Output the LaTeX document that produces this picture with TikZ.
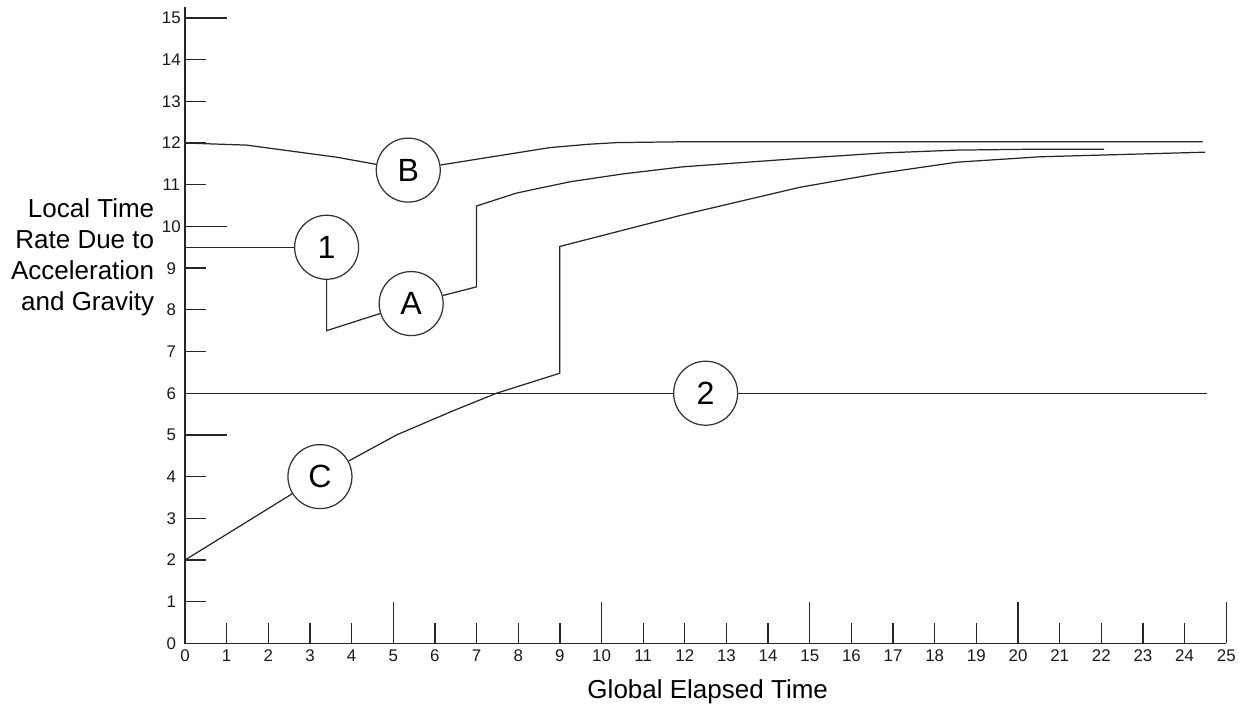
\documentclass[tikz,border=0pt]{standalone}
\usepackage{fontspec}
\setmainfont{Liberation Sans}
\begin{document}
\begin{tikzpicture}[x=0.833cm, y=0.834cm,
  axisline/.style={draw=black!85, line width=0.75pt},
  curve/.style={draw=black!85, line width=0.7pt, line join=miter},
  circ/.style={circle, draw=black!80, line width=0.7pt, minimum size=1.28cm, inner sep=0pt, fill=white, font=\fontsize{18.3}{20}\selectfont},
  ticklab/.style={font=\fontsize{9.6}{11}\selectfont, inner sep=0pt, text=black!90},
  title/.style={font=\fontsize{14.8}{17.6}\selectfont, inner sep=0pt, text=black}]
\useasboundingbox (-4.442,-1.523) rectangle (25.45,15.43);

% axes
\coordinate (ytop) at (0,15.26);
\coordinate (orig) at (0,0);
\coordinate (xend) at (25,0);
\draw[axisline] (ytop) -- (orig) -- (xend);
\foreach \i in {1,2,3,4,6,7,8,9,11,12,13,14} \draw[axisline] (0,\i) -- (0.5,\i);
\foreach \i in {5,10,15} \draw[axisline] (0,\i) -- (1,\i);
\foreach \i in {1,2,3,4,6,7,8,9,11,12,13,14,16,17,18,19,21,22,23,24} \draw[axisline] (\i,0) -- (\i,0.5);
\foreach \i in {5,10,15,20,25} \draw[axisline] (\i,0) -- (\i,1);

% tick labels
\foreach \i in {0,...,15} \node[ticklab, anchor=base] (yl\i) at (-0.33,\i-0.142) {\i};
\foreach \i in {0,...,25} \node[ticklab, anchor=base] (xl\i) at (\i,-0.435) {\i};

% axis titles
\node[title, anchor=base] (xtitle) at (12.55,-1.314) {Global Elapsed Time};
\node[title, anchor=east, align=right] (ytitle) at (-0.732,9.26) {Local Time\\Rate Due to\\Acceleration\\and Gravity};

% labelled circles
\node[circ] (n1) at (3.4,9.5) {1};
\node[circ] (n2) at (12.5,6.0) {2};
\node[circ] (nA) at (5.43,8.15) {A};
\node[circ] (nB) at (5.36,11.35) {B};
\node[circ] (nC) at (3.24,4.0) {C};

% start/end coordinates
\coordinate (s1) at (0,9.5);
\coordinate (s2) at (0,6);
\coordinate (e2) at (24.54,6);
\coordinate (sB) at (0,12);
\coordinate (eB) at (24.43,12.03);
\coordinate (eA) at (22.07,11.85);
\coordinate (sC) at (0,2);
\coordinate (eC) at (24.49,11.78);

% line 2
\draw[curve] (s2) -- (n2) -- (e2);
% line 1 and A
\draw[curve] (s1) -- (n1);
\draw[curve] (n1) -- (3.4,7.5) -- (nA);
\draw[curve] (nA) -- (7,8.55) -- (7,10.49) -- (7.96,10.80) -- (9.24,11.07) -- (10.52,11.26) -- (11.96,11.43) -- (14.76,11.63) -- (16.73,11.76) -- (18.53,11.83) -- (20.29,11.85) -- (eA);
% B
\draw[curve] (sB) -- (1.48,11.95) -- (2.52,11.81) -- (3.64,11.66) -- (nB);
\draw[curve] (nB) -- (8.76,11.89) -- (9.68,11.97) -- (10.37,12.01) -- (11.96,12.03) -- (eB);
% C
\draw[curve] (sC) -- (nC);
\draw[curve] (nC) -- (5.08,5.0) -- (6.44,5.58) -- (7.48,6.0) -- (9,6.48) -- (9,9.52) -- (11.96,10.28) -- (13.49,10.64) -- (14.77,10.94) -- (16.6,11.26) -- (18.53,11.54) -- (20.53,11.67) -- (eC);
\end{tikzpicture}
\end{document}
